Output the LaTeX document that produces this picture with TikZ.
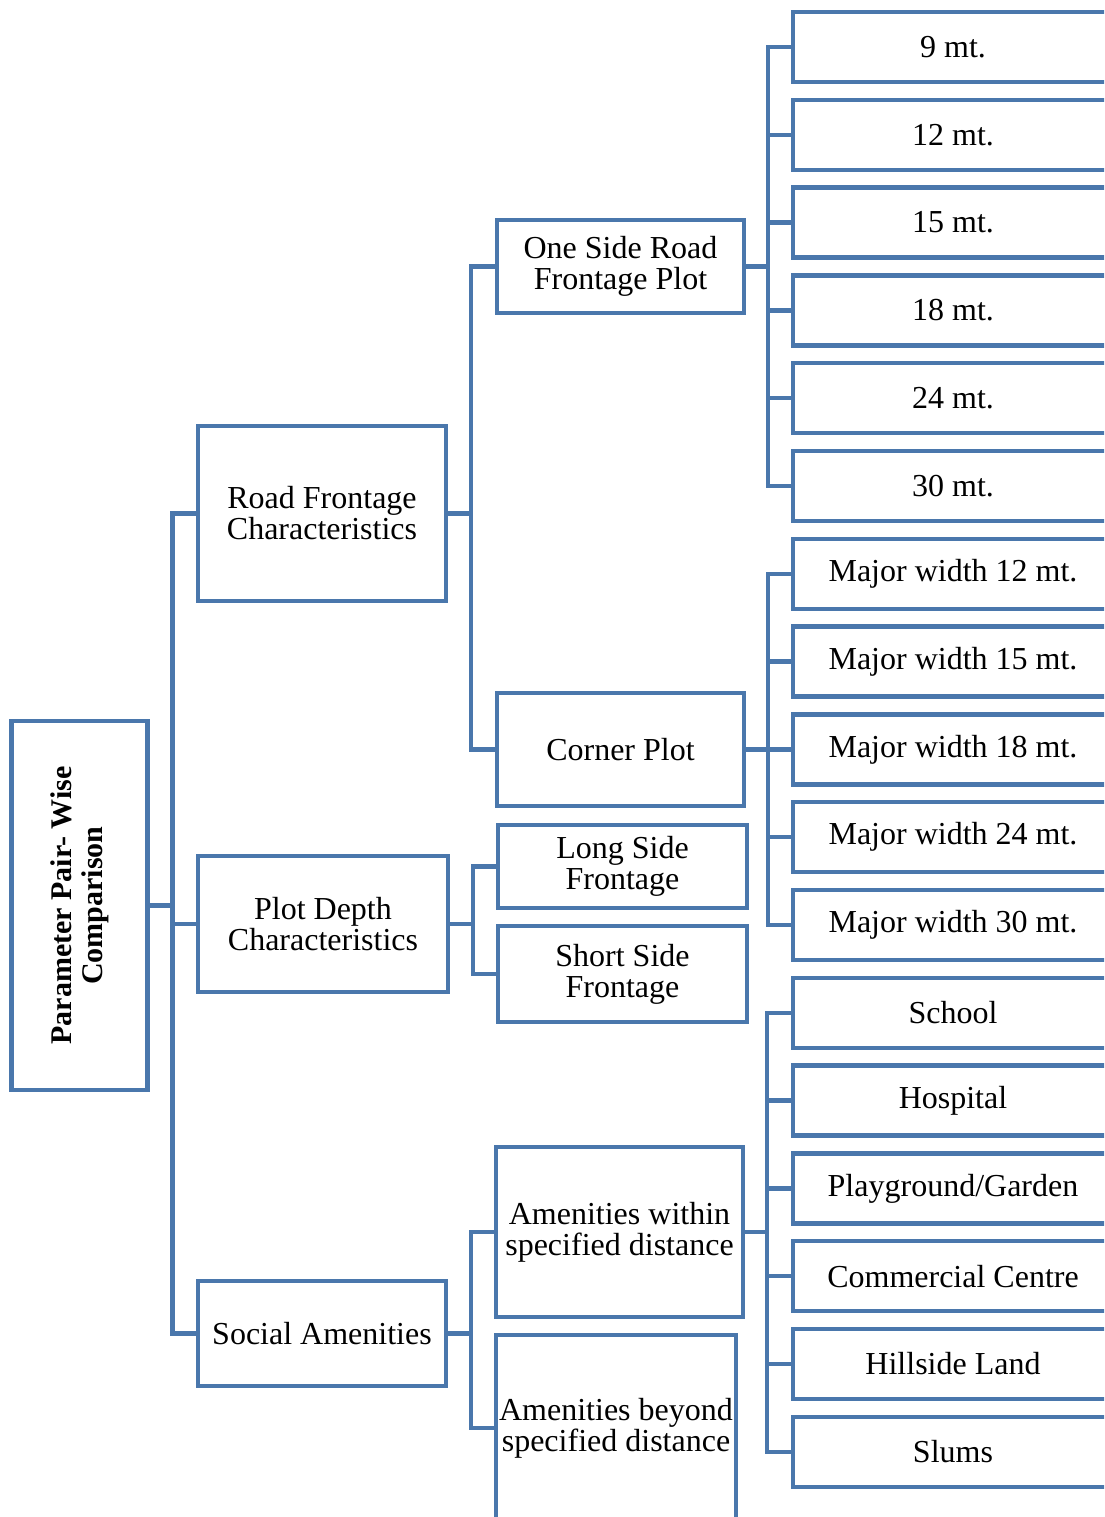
\documentclass[tikz,border=0pt]{standalone}
\usepackage{fontspec}
\setmainfont{Liberation Serif}
\usetikzlibrary{positioning}
\definecolor{boxblue}{RGB}{74,119,172}
\tikzset{
    mynode/.style={rectangle, draw=boxblue, line width=4.5pt, outer sep=0pt, inner sep=2pt, align=center, font=\fontsize{32}{31}\selectfont},
    myleaf/.style={mynode, minimum width=320pt, minimum height=70pt},
    myroot/.style={mynode, rotate=90, minimum width=369pt, minimum height=136pt, font=\fontsize{30}{31}\selectfont\bfseries},
    branch/.style={draw=boxblue, line width=4.5pt}
}

\begin{document}
\begin{tikzpicture}[x=1pt, y=-1pt]
    \useasboundingbox (0,0) rectangle (1104,1517);
    \clip (0,0) rectangle (1104,1517);

    \node[myroot] (root) at (79.7,905.5) {Parameter Pair- Wise\\Comparison};

    \node[mynode, minimum width=248pt, minimum height=175pt] (road) at (322,513.5)
      {Road Frontage\\Characteristics};
    \node[mynode, minimum width=250pt, minimum height=136pt] (depth) at (323,924)
      {Plot Depth\\Characteristics};
    \node[mynode, minimum width=248pt, minimum height=105pt] (social) at (322,1333.5)
      {Social Amenities};

    \node[mynode, minimum width=247pt, minimum height=93pt] (oneside) at (620.5,266.5)
      {One Side Road\\Frontage Plot};
    \node[mynode, minimum width=247pt, minimum height=113pt] (corner) at (620.5,749.5)
      {Corner Plot};
    \node[mynode, minimum width=249pt, minimum height=83pt] (long) at (622.5,866.5)
      {Long Side\\Frontage};
    \node[mynode, minimum width=249pt, minimum height=96pt, below=18pt of long] (short)
      {Short Side\\Frontage};
    \node[mynode, minimum width=247pt, minimum height=170pt] (within) at (619.5,1232)
      {Amenities within\\specified distance};
    \node[mynode, minimum width=240pt, minimum height=186pt] (beyond) at (616,1428)
      {Amenities beyond\\specified distance};

    % leaves, one column
    \node[myleaf] (m9) at (953,47) {9 mt.};
    \node[myleaf, below=17.8pt of m9] (m12) {12 mt.};
    \node[myleaf, below=17.8pt of m12] (m15) {15 mt.};
    \node[myleaf, below=17.8pt of m15] (m18) {18 mt.};
    \node[myleaf, below=17.8pt of m18] (m24) {24 mt.};
    \node[myleaf, below=17.8pt of m24] (m30) {30 mt.};
    \node[myleaf, below=17.8pt of m30] (w12) {Major width 12 mt.};
    \node[myleaf, below=17.8pt of w12] (w15) {Major width 15 mt.};
    \node[myleaf, below=17.8pt of w15] (w18) {Major width 18 mt.};
    \node[myleaf, below=17.8pt of w18] (w24) {Major width 24 mt.};
    \node[myleaf, below=17.8pt of w24] (w30) {Major width 30 mt.};
    \node[myleaf, below=17.8pt of w30] (school) {School};
    \node[myleaf, below=17.8pt of school] (hospital) {Hospital};
    \node[myleaf, below=17.8pt of hospital] (garden) {Playground/Garden};
    \node[myleaf, below=17.8pt of garden] (commercial) {Commercial Centre};
    \node[myleaf, below=17.8pt of commercial] (hillside) {Hillside Land};
    \node[myleaf, below=17.8pt of hillside] (slums) {Slums};

    % root is turned, so its south side faces right
    \foreach \c in {road,depth,social}
      \draw[branch] (root.south) -- ++(25,0) |- (\c.west);
    \foreach \c in {oneside,corner}
      \draw[branch] (road.east) -- ++(25,0) |- (\c.west);
    \foreach \c in {long,short}
      \draw[branch] (depth.east) -- ++(25,0) |- (\c.west);
    \foreach \c in {within,beyond}
      \draw[branch] (social.east) -- ++(25,0) |- (\c.west);
    \foreach \c in {m9,m12,m15,m18,m24,m30}
      \draw[branch] (oneside.east) -- ++(24,0) |- (\c.west);
    \foreach \c in {w12,w15,w18,w24,w30}
      \draw[branch] (corner.east) -- ++(24,0) |- (\c.west);
    \foreach \c in {school,hospital,garden,commercial,hillside,slums}
      \draw[branch] (within.east) -- ++(24,0) |- (\c.west);
\end{tikzpicture}
\end{document}
